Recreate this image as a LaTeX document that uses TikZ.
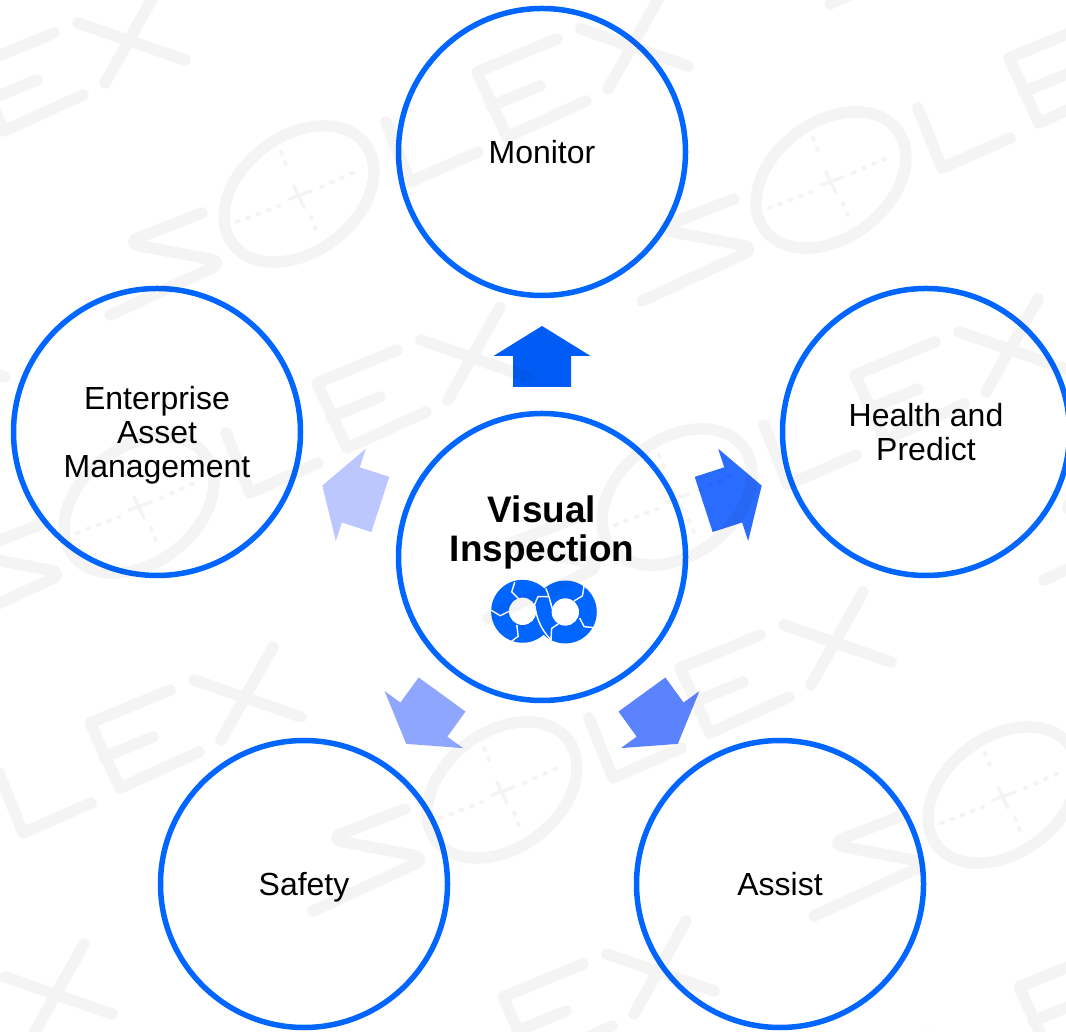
\documentclass[tikz,border=0pt]{standalone}
\usepackage{fontspec}
\setmainfont{Liberation Sans}
\usepackage{xcolor}
\definecolor{ringblue}{HTML}{0066FF}
\definecolor{pointerA}{HTML}{005CF5}
\definecolor{pointerB}{HTML}{2A6CFF}
\definecolor{pointerC}{HTML}{5C83FF}
\definecolor{pointerD}{HTML}{8FA6FF}
\definecolor{pointerE}{HTML}{BCC6FF}
\tikzset{
    ringnode/.style={draw=ringblue, line width=0.055cm, circle, minimum size=2.87cm, inner sep=0pt, align=center,
        text depth=0pt, font=\fontsize{9.1}{9.67}\selectfont},
    markline/.style={draw=black, draw opacity=0.045, line width=0.115cm, line cap=round, line join=round},
    markdots/.style={draw=black, draw opacity=0.045, line width=0.04cm, line cap=round, dash pattern=on 0.02cm off 0.09cm},
    markcross/.style={draw=black, draw opacity=0.045, line width=0.035cm, line cap=round},
    logocut/.style={draw=white, line width=0.4pt},
}

\begin{document}
\begin{tikzpicture}
        \useasboundingbox (0, 0) rectangle (10.66, 10.31);
        \fill[white] (0, 0) rectangle (10.66, 10.31);

        \node[ringnode] (hub) at (5.42, 4.74) {};
        \node[ringnode] (monitor) at (5.42, 8.79) {Monitor};
        \node[ringnode] (health) at (9.26, 5.99) {Health and\\Predict};
        \node[ringnode] (assist) at (7.80, 1.47) {Assist};
        \node[ringnode] (safety) at (3.04, 1.47) {Safety};
        \node[ringnode] (enterprise) at (1.57, 5.99) {Enterprise\\Asset\\Management};
        \node[align=center, inner sep=0pt, font=\fontsize{10.5}{11.1}\selectfont\bfseries] (hubtext) at (5.42, 4.99) {Visual\\Inspection};

        % block arrows around the hub
        \foreach \ang/\col in {0/pointerA, -72/pointerB, -144/pointerC, -216/pointerD, -288/pointerE} {
            \fill[\col, shift={(hub)}, rotate=\ang] (0, 2.31) -- (0.485, 2.01) -- (0.29, 2.01) -- (0.29, 1.70)
                -- (-0.29, 1.70) -- (-0.29, 2.01) -- (-0.485, 2.01) -- cycle;
        }

        % logo under the hub text
        \begin{scope}[shift={(4.85, 4.59)}, x=0.00342cm, y=-0.00342cm]
            \fill[ringblue] (110, 115) circle [radius=92] (235, 117) circle [radius=92];
            \fill[white] (110, 115) circle [radius=40] (235, 117) circle [radius=40];
            \draw[logocut] (87, 30) -- (78, 58) -- (100, 80);
            \draw[logocut] (18, 112) -- (45, 128) -- (70, 115);
            \draw[logocut] (75, 205) -- (97, 188) -- (93, 155);
            \draw[logocut] (290, 40) -- (285, 70) -- (260, 85);
            \draw[logocut] (277, 135) -- (290, 160) -- (320, 163);
            \draw[logocut] (185, 72) -- (155, 72) -- (145, 95) .. controls (150, 130) and (160, 165) .. (193, 198);
            \draw[logocut] (178, 48) .. controls (195, 85) and (195, 125) .. (217, 150) -- (195, 165) -- (193, 200);
        \end{scope}

        % faint marks over the whole picture
        \foreach \mx/\my in {2.99/8.37, 8.31/8.51, 1.39/5.26, 6.77/5.34, 5.02/2.41, 10.03/2.36, -0.88/1.86,
            3.25/-0.88, 8.41/-0.78, -2.77/-1.11, -2.04/8.43, 10.19/11.48, 12.33/5.72, -3.84/5.26} {
            \draw[markline, shift={(\mx, \my)}]
                [rounded corners=0.15cm] (-0.97, -0.19) -- (-1.74, -0.49) -- (-0.74, -0.68) -- (-1.89, -1.21) [sharp corners]
                (0, 0) ellipse [x radius=0.83, y radius=0.58, rotate=37]
                (0.87, 0.72) -- (1.11, 0.12) -- (1.79, 0.42)
                (2.58, 1.55) -- (1.78, 1.22) -- (2.08, 0.57) -- (2.87, 0.93)
                (1.92, 0.88) -- (2.41, 1.08)
                (2.82, 1.65) -- (3.89, 1.28)
                (3.61, 1.98) -- (3.09, 1.05);
            \draw[markdots, shift={(\mx, \my)}]
                (-0.62, -0.28) -- (-0.20, -0.12)
                (0.22, 0.07) -- (0.62, 0.25)
                (-0.18, 0.42) -- (-0.10, 0.22)
                (0.12, -0.23) -- (0.20, -0.43);
            \draw[markcross, shift={(\mx, \my)}]
                (-0.10, -0.05) -- (0.12, 0.03)
                (-0.05, 0.08) -- (0.05, -0.13);
        }
    \end{tikzpicture}
\end{document}
